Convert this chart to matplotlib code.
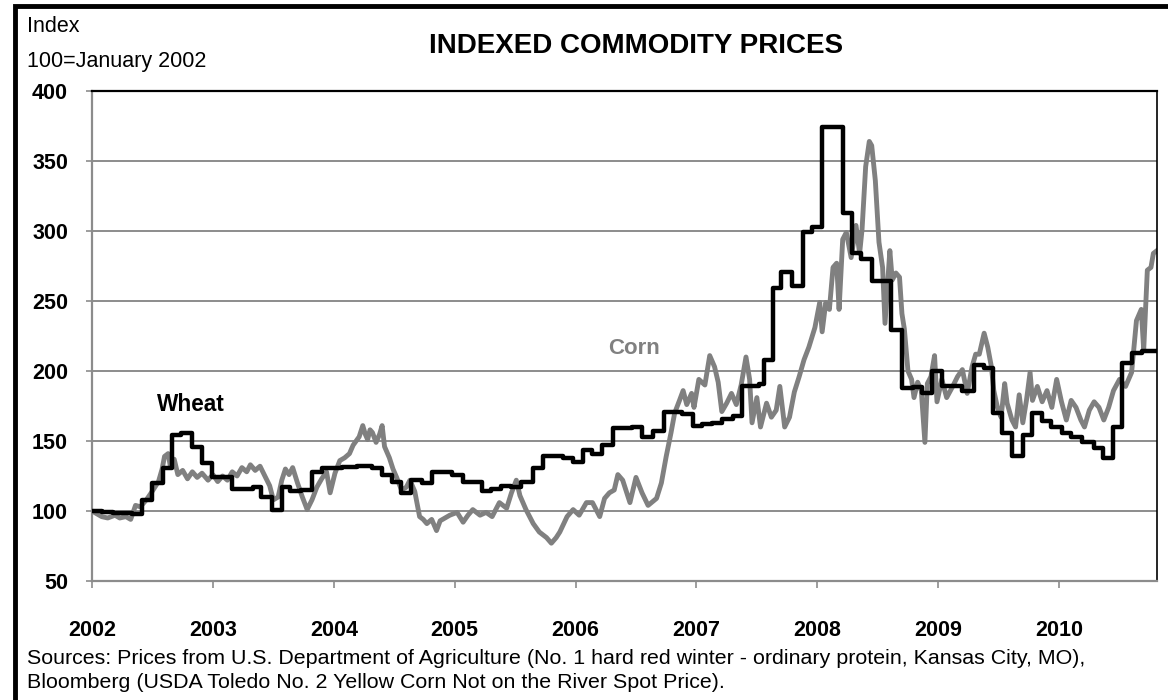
import matplotlib
matplotlib.use("Agg")
import matplotlib.pyplot as plt
from matplotlib.patches import Rectangle

# wheat index: step series (start of step in fractional years, value)
wheat_t = [2002.00, 2002.08, 2002.17, 2002.33, 2002.41, 2002.50, 2002.59, 2002.66, 2002.74,
           2002.83, 2002.91, 2002.99, 2003.16, 2003.33, 2003.40, 2003.49, 2003.57, 2003.64,
           2003.73, 2003.82, 2003.90, 2004.07, 2004.19, 2004.32, 2004.40, 2004.48, 2004.56,
           2004.64, 2004.73, 2004.81, 2004.98, 2005.07, 2005.23, 2005.30, 2005.38, 2005.47,
           2005.55, 2005.65, 2005.73, 2005.90, 2005.98, 2006.06, 2006.14, 2006.22, 2006.31,
           2006.47, 2006.55, 2006.64, 2006.73, 2006.88, 2006.97, 2007.05, 2007.13, 2007.21,
           2007.30, 2007.38, 2007.52, 2007.56, 2007.63, 2007.70, 2007.79, 2007.88, 2007.96,
           2008.04, 2008.21, 2008.29, 2008.36, 2008.45, 2008.61, 2008.70, 2008.79, 2008.87,
           2008.95, 2009.03, 2009.20, 2009.30, 2009.38, 2009.45, 2009.53, 2009.61, 2009.70,
           2009.78, 2009.86, 2009.93, 2010.02, 2010.10, 2010.19, 2010.29, 2010.36, 2010.45,
           2010.52, 2010.60, 2010.69, 2010.81]
wheat_v = [100, 99, 98.5, 98, 108, 120, 131, 154, 156,
           146, 134, 124, 116, 117, 110, 101, 117, 114,
           115, 128, 131, 131.5, 132, 131, 126, 121, 113,
           122, 120, 128, 126, 121, 114, 116, 118, 117,
           121, 131, 139, 138, 135, 143.5, 140.5, 147, 159,
           160, 153, 157, 171, 169, 161, 162, 163, 166,
           168, 189, 191, 208, 259, 271, 261, 299, 303,
           374, 313, 284, 280, 264, 229, 188, 188.5, 184,
           200, 189, 186, 204, 202, 170, 156, 139, 154,
           170, 164, 160, 156, 153, 149, 145, 138, 160,
           206, 213, 214, 214]

# corn index: noisy spot series
corn_t = [2002.00, 2002.04, 2002.08, 2002.13, 2002.19, 2002.23, 2002.28, 2002.32, 2002.36, 2002.40,
          2002.45, 2002.49, 2002.55, 2002.58, 2002.60, 2002.63, 2002.65, 2002.68, 2002.71, 2002.75,
          2002.79, 2002.83, 2002.87, 2002.91, 2002.96, 2003.00, 2003.04, 2003.08, 2003.12, 2003.16,
          2003.20, 2003.24, 2003.28, 2003.31, 2003.35, 2003.39, 2003.43, 2003.47, 2003.50, 2003.54,
          2003.57, 2003.60, 2003.63, 2003.66, 2003.70, 2003.74, 2003.78, 2003.82, 2003.86, 2003.90,
          2003.94, 2003.97, 2004.01, 2004.05, 2004.09, 2004.13, 2004.16, 2004.21, 2004.24, 2004.26,
          2004.28, 2004.30, 2004.32, 2004.35, 2004.38, 2004.40, 2004.42, 2004.46, 2004.49, 2004.52,
          2004.56, 2004.60, 2004.63, 2004.67, 2004.71, 2004.74, 2004.77, 2004.81, 2004.85, 2004.88,
          2004.92, 2004.96, 2005.02, 2005.07, 2005.11, 2005.15, 2005.21, 2005.26, 2005.31, 2005.37,
          2005.43, 2005.47, 2005.51, 2005.54, 2005.59, 2005.65, 2005.70, 2005.76, 2005.80, 2005.84,
          2005.87, 2005.93, 2005.98, 2006.03, 2006.09, 2006.14, 2006.20, 2006.24, 2006.28, 2006.32,
          2006.35, 2006.39, 2006.45, 2006.50, 2006.55, 2006.60, 2006.67, 2006.71, 2006.75, 2006.79,
          2006.82, 2006.86, 2006.89, 2006.92, 2006.96, 2006.98, 2007.02, 2007.07, 2007.11, 2007.15,
          2007.18, 2007.21, 2007.25, 2007.29, 2007.33, 2007.37, 2007.41, 2007.44, 2007.46, 2007.50,
          2007.53, 2007.58, 2007.62, 2007.66, 2007.69, 2007.73, 2007.77, 2007.81, 2007.85, 2007.89,
          2007.93, 2007.98, 2008.02, 2008.04, 2008.07, 2008.10, 2008.13, 2008.16, 2008.18, 2008.21,
          2008.24, 2008.28, 2008.32, 2008.35, 2008.37, 2008.40, 2008.43, 2008.45, 2008.48, 2008.51,
          2008.54, 2008.56, 2008.60, 2008.62, 2008.65, 2008.68, 2008.70, 2008.72, 2008.75, 2008.78,
          2008.80, 2008.83, 2008.86, 2008.89, 2008.91, 2008.94, 2008.97, 2008.99, 2009.03, 2009.07,
          2009.12, 2009.16, 2009.20, 2009.24, 2009.28, 2009.31, 2009.34, 2009.38, 2009.41, 2009.44,
          2009.46, 2009.49, 2009.52, 2009.55, 2009.57, 2009.61, 2009.64, 2009.67, 2009.70, 2009.73,
          2009.76, 2009.78, 2009.82, 2009.86, 2009.90, 2009.94, 2009.98, 2010.02, 2010.06, 2010.10,
          2010.14, 2010.18, 2010.21, 2010.25, 2010.29, 2010.33, 2010.37, 2010.41, 2010.45, 2010.50,
          2010.55, 2010.60, 2010.64, 2010.68, 2010.70, 2010.73, 2010.76, 2010.78, 2010.81]
corn_v = [100, 98, 96, 95, 97, 95, 96, 94, 104, 103,
          108, 113, 121, 130, 139, 141, 131, 137, 126, 129,
          123, 128, 124, 127, 122, 126, 121, 125, 122, 128,
          125, 131, 128, 133, 129, 132, 125, 118, 108, 110,
          122, 130, 126, 131, 120, 110, 101, 108, 117, 123,
          128, 113, 127, 136, 138, 141, 147, 153, 161, 155,
          151, 158, 156, 149, 155, 161, 146, 138, 130, 124,
          115, 117, 122, 114, 96, 94, 91, 94, 86, 93,
          95, 97, 99, 92, 97, 101, 97, 99, 96, 106,
          102, 113, 122, 111, 101, 91, 85, 81, 77, 81,
          85, 96, 101, 97, 106, 106, 96, 109, 113, 115,
          126, 122, 106, 124, 113, 104, 109, 120, 139, 156,
          170, 179, 186, 176, 184, 174, 194, 190, 211, 203,
          192, 171, 177, 184, 176, 190, 210, 194, 163, 181,
          160, 177, 167, 172, 189, 160, 167, 185, 196, 208,
          217, 231, 249, 228, 249, 244, 274, 277, 244, 294,
          299, 281, 304, 284, 301, 346, 364, 361, 336, 292,
          274, 234, 286, 265, 270, 267, 241, 230, 200, 194,
          181, 192, 186, 149, 191, 196, 211, 178, 194, 181,
          189, 196, 201, 184, 203, 212, 212, 227, 217, 203,
          186, 174, 167, 191, 177, 165, 160, 183, 163, 179,
          199, 179, 189, 178, 186, 174, 194, 178, 165, 179,
          174, 165, 160, 172, 178, 174, 165, 174, 186, 194,
          189, 199, 236, 244, 215, 272, 274, 284, 286]

years = [2002, 2003, 2004, 2005, 2006, 2007, 2008, 2009, 2010]
y_ticks = [50, 100, 150, 200, 250, 300, 350, 400]

plt.rcParams['font.family'] = ['Liberation Sans', 'DejaVu Sans']

fig = plt.figure(figsize=(11.68, 7), dpi=100)
ax = fig.add_axes([92 / 1168, 1 - 581 / 700, (1157 - 92) / 1168, 490 / 700])

grid_c = '#8c8c8c'
for v in y_ticks[1:-1]:
    ax.axhline(v, color=grid_c, lw=1.4, zorder=1)

ax.plot(corn_t, corn_v, color='#808080', lw=3.5, zorder=2, solid_joinstyle='round')
ax.step(wheat_t, wheat_v, where='post', color='black', lw=3.2, zorder=3)

ax.set_xlim(2002, 2010.81)
ax.set_ylim(50, 400)
ax.set_yticks(y_ticks)
ax.set_xticks(years)
ax.set_xticklabels([str(y) for y in years])
ax.tick_params(axis='y', length=4.3, width=1.2, color=grid_c, pad=13, labelsize=15.5)
ax.tick_params(axis='x', length=5, width=1.2, color=grid_c, pad=23, labelsize=15.5)
for lab in ax.get_xticklabels() + ax.get_yticklabels():
    lab.set_fontweight('bold')

ax.spines['left'].set_color(grid_c)
ax.spines['left'].set_linewidth(1.6)
ax.spines['bottom'].set_color(grid_c)
ax.spines['bottom'].set_linewidth(1.6)
ax.spines['top'].set_color('black')
ax.spines['top'].set_linewidth(1.6)
ax.spines['right'].set_color('black')
ax.spines['right'].set_linewidth(1.2)

ax.text(2002.82, 176, 'Wheat', fontsize=16.3, fontweight='bold', color='black', ha='center', va='center')
ax.text(2006.48, 216, 'Corn', fontsize=16, fontweight='bold', color='#808080', ha='center', va='center')

fig.text(636 / 1168, 1 - 46 / 700, 'INDEXED COMMODITY PRICES', fontsize=20, fontweight='bold',
         ha='center', va='center')
fig.text(27 / 1168, 1 - 27 / 700, 'Index', fontsize=15.5, ha='left', va='center')
fig.text(27 / 1168, 1 - 61 / 700, '100=January 2002', fontsize=15.5, ha='left', va='center')
fig.text(27 / 1168, 1 - 658 / 700, 'Sources: Prices from U.S. Department of Agriculture (No. 1 hard red winter - '
         'ordinary protein, Kansas City, MO),', fontsize=15.4, ha='left', va='center')
fig.text(27 / 1168, 1 - 683 / 700, 'Bloomberg (USDA Toledo No. 2 Yellow Corn Not on the River Spot Price).',
         fontsize=15.4, ha='left', va='center')

# thick frame round the whole graphic (right and bottom sides fall outside the image)
fig.patches.append(Rectangle((14.5 / 1168, -0.05), 1.1, 1.05 - 6 / 700, transform=fig.transFigure,
                             fill=False, edgecolor='black', lw=3.5, zorder=10))

fig.savefig('out.png', dpi=100)
